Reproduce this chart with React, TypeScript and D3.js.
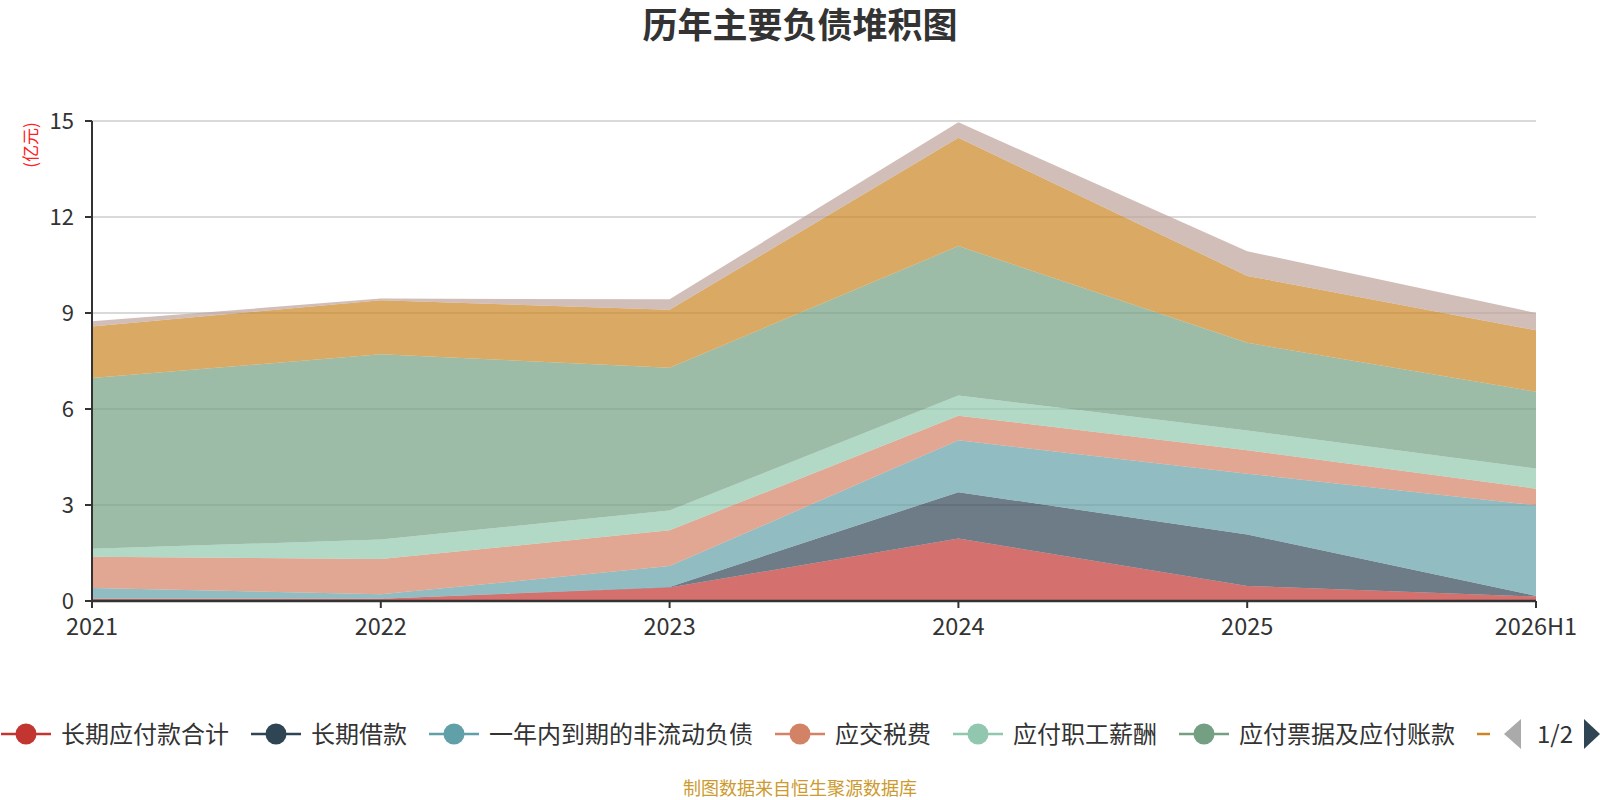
import React from 'react'
import * as d3 from 'd3'

const years = ['2021', '2022', '2023', '2024', '2025', '2026H1']
const seriesNames = [
  '长期应付款合计',
  '长期借款',
  '一年内到期的非流动负债',
  '应交税费',
  '应付职工薪酬',
  '应付票据及应付账款',
  '合同负债',
  '其他应付款合计',
]
// values in 亿元
const longTermPayables = [0.07, 0.07, 0.42, 1.95, 0.47, 0.14]
const longTermLoans = [0, 0, 0.02, 1.45, 1.61, 0.02]
const currentNonCurrent = [0.34, 0.14, 0.65, 1.62, 1.9, 2.83]
const taxesPayable = [0.97, 1.1, 1.12, 0.77, 0.73, 0.52]
const payroll = [0.25, 0.61, 0.62, 0.63, 0.62, 0.63]
const notesAndAccounts = [5.34, 5.79, 4.46, 4.67, 2.74, 2.4]
const contractLiab = [1.61, 1.69, 1.81, 3.39, 2.09, 1.92]
const otherPayables = [0.16, 0.05, 0.33, 0.48, 0.77, 0.54]
const yTicks = [0, 3, 6, 9, 12, 15]

const colors = ['#c23531', '#2f4554', '#61a0a8', '#d48265', '#91c7ae', '#749f83', '#ca8622', '#bda29a']
const FONT = '"Noto Sans CJK SC", "Noto Sans", sans-serif'

const allSeries = [
  longTermPayables,
  longTermLoans,
  currentNonCurrent,
  taxesPayable,
  payroll,
  notesAndAccounts,
  contractLiab,
  otherPayables,
]

const W = 1600
const H = 800
const left = 92
const right = 1536
const top = 121
const bottom = 601

export default function App() {
  const x = d3.scalePoint<string>().domain(years).range([left, right]).padding(0)
  const y = d3.scaleLinear().domain([0, 15]).range([bottom, top])

  const rows = years.map((yr, i) => {
    const r: Record<string, number | string> = { year: yr }
    seriesNames.forEach((n, k) => (r[n] = allSeries[k][i]))
    return r
  })
  const stacked = d3.stack<any>().keys(seriesNames)(rows)
  const area = d3
    .area<any>()
    .x((d) => x(d.data.year) as number)
    .y0((d) => y(d[0]))
    .y1((d) => y(d[1]))

  // legend layout (scroll legend, first page)
  const charW = 24
  let cursor = 1
  const legendItems = seriesNames.map((n, i) => {
    const item = { name: n, color: colors[i], x: cursor }
    cursor += 50 + 10 + n.length * charW + 22
    return item
  })
  const legendY = 734

  return (
    <div style={{ position: 'fixed', left: 0, top: 0 }}>
      <svg width={W} height={H} style={{ display: 'block', background: '#fff' }} fontFamily={FONT}>
        <defs>
          <clipPath id="legendClip">
            <rect x={0} y={700} width={1490} height={70} />
          </clipPath>
        </defs>
        <text x={800} y={38} textAnchor="middle" fontSize={35} fontWeight="bold" fill="#333">
          历年主要负债堆积图
        </text>

        {/* grid */}
        {yTicks.map((t) => (
          <line key={t} x1={left} x2={right} y1={y(t)} y2={y(t)} stroke="#ccc" strokeWidth={1.5} />
        ))}

        {/* areas */}
        {stacked.map((s, i) => (
          <path key={s.key} d={area(s) || ''} fill={colors[i]} fillOpacity={0.7} />
        ))}

        {/* y axis */}
        <line x1={left} x2={left} y1={top} y2={bottom} stroke="#333" strokeWidth={2} />
        {yTicks.map((t) => (
          <g key={t}>
            <line x1={left - 7} x2={left} y1={y(t)} y2={y(t)} stroke="#333" strokeWidth={2} />
            <text x={74} y={y(t)} dy="0.36em" textAnchor="end" fontSize={22} fill="#333">
              {t}
            </text>
          </g>
        ))}
        <text
          transform={`translate(37,145) rotate(-90)`}
          textAnchor="middle"
          fontSize={17}
          fill="#ff2020"
        >
          (亿元)
        </text>

        {/* x axis */}
        <line x1={left} x2={right} y1={bottom} y2={bottom} stroke="#333" strokeWidth={2.5} />
        {years.map((yr) => (
          <g key={yr}>
            <line x1={x(yr)} x2={x(yr)} y1={bottom} y2={bottom + 7} stroke="#333" strokeWidth={2} />
            <text x={x(yr)} y={627} dy="0.36em" textAnchor="middle" fontSize={23.5} fill="#333">
              {yr}
            </text>
          </g>
        ))}

        {/* legend */}
        <g clipPath="url(#legendClip)">
          {legendItems.map((it) => (
            <g key={it.name}>
              <line x1={it.x} x2={it.x + 50} y1={legendY} y2={legendY} stroke={it.color} strokeWidth={2.5} />
              <circle cx={it.x + 25} cy={legendY} r={10.5} fill={it.color} />
              <text x={it.x + 60} y={legendY} dy="0.36em" fontSize={24} fill="#333">
                {it.name}
              </text>
            </g>
          ))}
        </g>
        {/* pager */}
        <path d={`M1521,${legendY - 15} L1504,${legendY} L1521,${legendY + 15} Z`} fill="#aaa" />
        <text x={1555} y={legendY} dy="0.36em" textAnchor="middle" fontSize={24} fill="#333">
          1/2
        </text>
        <path d={`M1584,${legendY - 15} L1600,${legendY} L1584,${legendY + 15} Z`} fill="#2f4554" />

        <text x={800} y={789} dy="0.36em" textAnchor="middle" fontSize={18} fill="#cc9a2e">
          制图数据来自恒生聚源数据库
        </text>
      </svg>
    </div>
  )
}
